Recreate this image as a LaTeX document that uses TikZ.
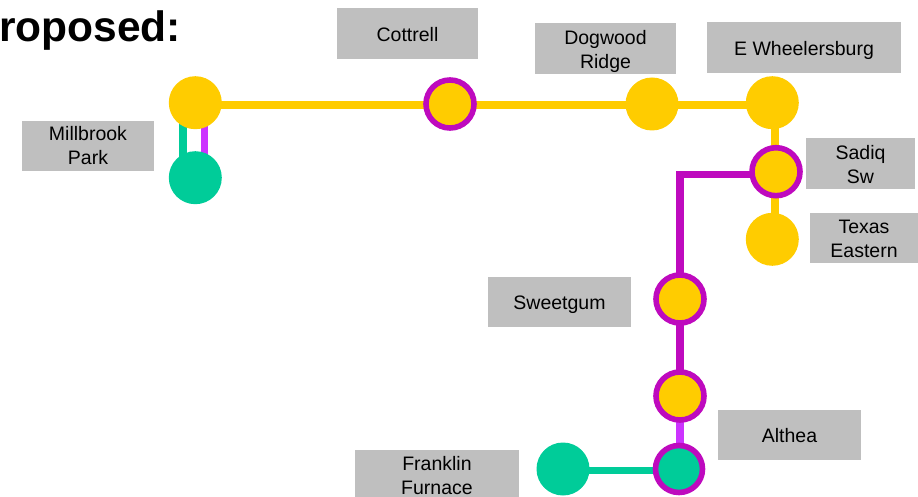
\documentclass[tikz,border=0pt]{standalone}
\usepackage{fontspec}
\setmainfont{Liberation Sans}
\definecolor{gold}{HTML}{FFCC00}
\definecolor{grn}{HTML}{00CC99}
\definecolor{pur}{HTML}{BE0ABE}
\definecolor{pnk}{HTML}{CC33FF}
\definecolor{lbl}{HTML}{BFBFBF}
\newcommand{\lbltxt}[2][-3pt]{\raisebox{#1}[\height][\depth]{\begin{tabular}{@{}c@{}}#2\end{tabular}}}
\tikzset{x=1pt,y=-1pt,
 st/.style={circle,minimum size=53pt,inner sep=0pt,fill=gold},
 stg/.style={circle,minimum size=53pt,inner sep=0pt,fill=grn},
 sp/.style={circle,minimum size=48pt,inner sep=0pt,fill=gold,draw=pur,line width=5.6pt},
 spg/.style={circle,minimum size=47pt,inner sep=0pt,fill=grn,draw=pur,line width=5.6pt},
 lab/.style={fill=lbl,inner sep=0pt,font=\fontsize{19.5}{24}\selectfont},
 ln/.style={line width=7.8pt},
}
\begin{document}
\begin{tikzpicture}
\useasboundingbox (0,0) rectangle (918,497);
\coordinate (A) at (195.3,102.7);
\coordinate (B) at (195.3,177.7);
\coordinate (C) at (450,104);
\coordinate (D) at (652,104);
\coordinate (E) at (772.3,102.7);
\coordinate (F) at (776,171.7);
\coordinate (G) at (772.3,239.3);
\coordinate (H) at (680,299);
\coordinate (I) at (680,396);
\coordinate (J) at (679,469);
\coordinate (K) at (563,469);
\coordinate (cn) at (680,174.5);
\draw[ln,grn] (183,103) -- (183,178);
\draw[ln,pnk] (204.5,103) -- (204.5,178);
\draw[ln,gold] (195,105) -- (772,105);
\draw[ln,gold] (775,103) -- (775,239);
\draw[ln,pur,line join=miter] (F|-cn) -- (cn) -- (I);
\draw[ln,pnk] (680,396) -- (680,469);
\draw[ln,grn] (K|-0,470.5) -- (J|-0,470.5);
\node[st] (a) at (A) {};
\node[stg] (b) at (B) {};
\node[sp] (c) at (C) {};
\node[st] (d) at (D) {};
\node[st] (e) at (E) {};
\node[sp] (f) at (F) {};
\node[st] (g) at (G) {};
\node[sp] (h) at (H) {};
\node[sp] (i) at (I) {};
\node[spg] (j) at (J) {};
\node[stg] (k) at (K) {};
\node[lab,minimum width=132pt,minimum height=50pt] (l1) at (88,146) {\lbltxt[-2.2pt]{Millbrook\\Park}};
\node[lab,minimum width=141pt,minimum height=51pt] (l2) at (407.5,34) {\lbltxt{Cottrell}};
\node[lab,minimum width=141pt,minimum height=51pt] (l3) at (605.5,49) {\lbltxt{Dogwood\\Ridge}};
\node[lab,minimum width=194pt,minimum height=51pt] (l4) at (804,47.5) {\lbltxt{E Wheelersburg}};
\node[lab,minimum width=109pt,minimum height=50.5pt] (l5) at (860.5,163.3) {\lbltxt{Sadiq\\Sw}};
\node[lab,minimum width=108pt,minimum height=50pt] (l6) at (864,238) {\lbltxt{Texas\\Eastern}};
\node[lab,minimum width=143pt,minimum height=50pt] (l7) at (559.5,302) {\lbltxt[-2.2pt]{Sweetgum}};
\node[lab,minimum width=143pt,minimum height=50pt] (l8) at (789.5,435) {\lbltxt{Althea}};
\node[lab,minimum width=164pt,minimum height=48pt] (l9) at (437,474) {\lbltxt[-4pt]{Franklin\\Furnace}};
\node[anchor=base west,inner sep=0pt,font=\bfseries\fontsize{42.5}{46}\selectfont] (t) at (-1,41.2) {roposed:};
\end{tikzpicture}
\end{document}
